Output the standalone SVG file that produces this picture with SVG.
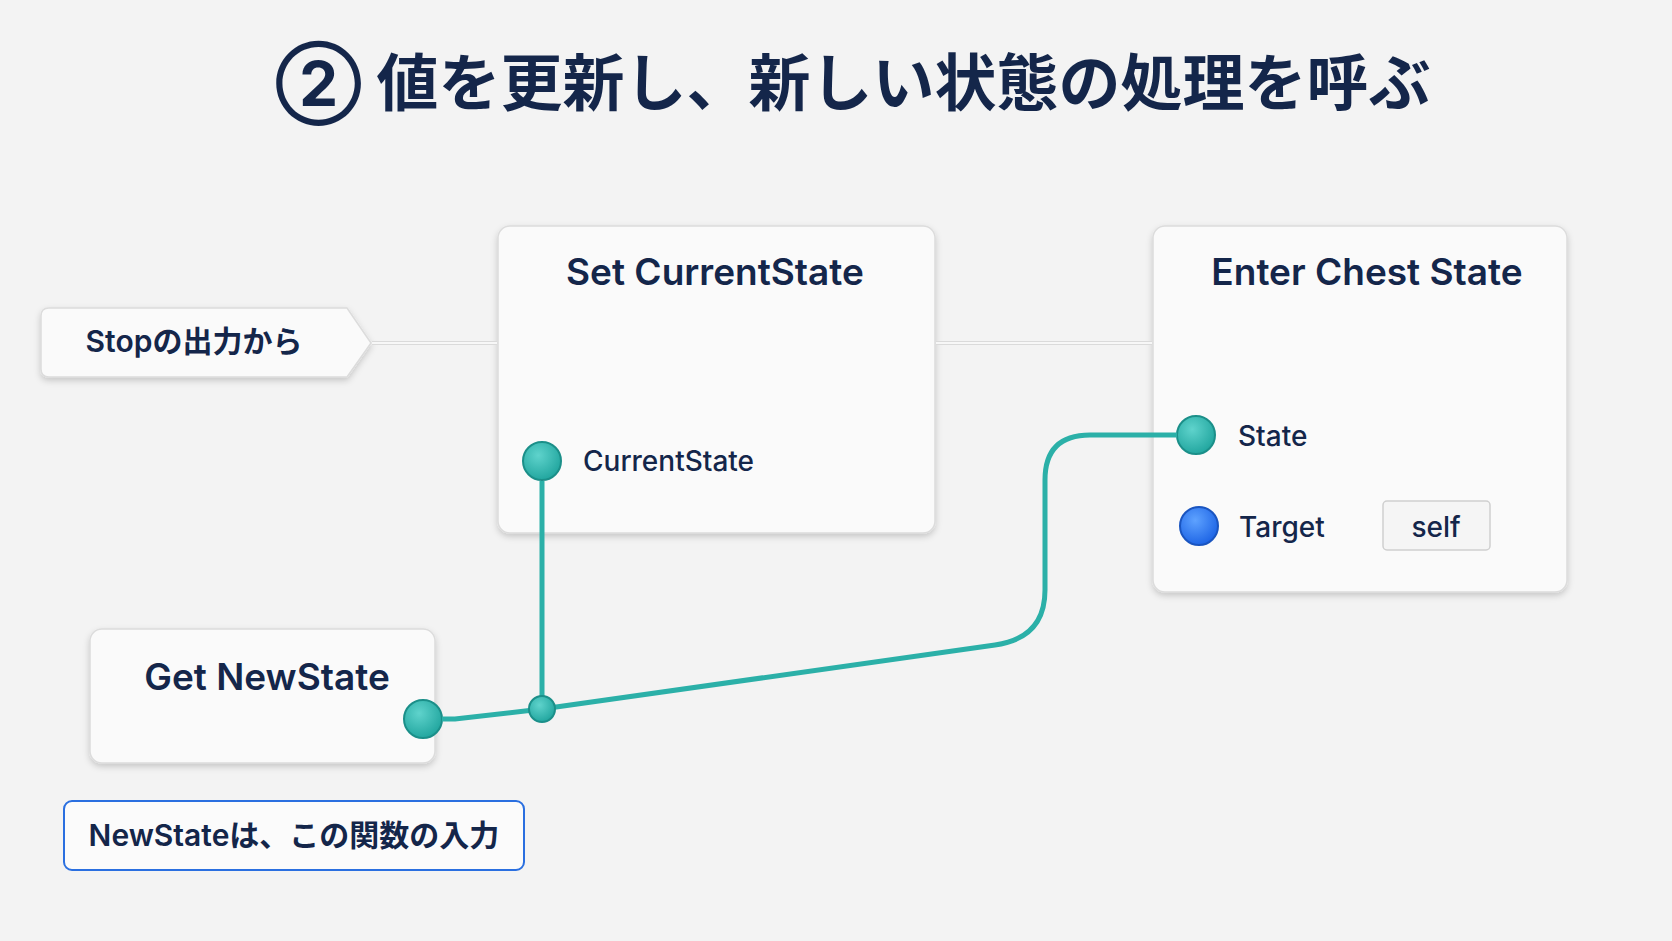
<svg xmlns="http://www.w3.org/2000/svg" width="1672" height="941" viewBox="0 0 1672 941">
<defs>
<filter id="sh" x="-10%" y="-10%" width="120%" height="130%"><feDropShadow dx="0" dy="3" stdDeviation="3" flood-color="#000" flood-opacity="0.18"/></filter>
<radialGradient id="tg" cx="40%" cy="35%" r="65%"><stop offset="0" stop-color="#5fd3cc"/><stop offset="1" stop-color="#23a7a0"/></radialGradient>
<radialGradient id="bg" cx="40%" cy="35%" r="65%"><stop offset="0" stop-color="#5ea2ff"/><stop offset="1" stop-color="#1f66e6"/></radialGradient>
</defs>
<style>
.t{font-family:Inter,"Noto Sans","Noto Sans CJK JP",sans-serif;fill:#14264a}
.node{fill:#fafafa;stroke:#dcdcdc;stroke-width:1.5}
.h{font-size:37px;font-weight:600;text-anchor:middle}
.p{font-size:28px;font-weight:500}
.pin{stroke:#1b8f89;stroke-width:2}
</style>
<rect width="1672" height="941" fill="#f3f3f3"/>
<g id="title"><text class="t" x="853" y="106" font-size="62" font-weight="700" text-anchor="middle">② 値を更新し、新しい状態の処理を呼ぶ</text></g>
<g id="stop"><path d="M49 308H347L371 343L347 377H49Q41 377 41 369V316Q41 308 49 308Z" class="node" filter="url(#sh)"/><text class="t" x="194" y="352" font-size="30" font-weight="600" text-anchor="middle">Stopの出力から</text></g>
<g id="set"><rect x="498" y="226" width="437" height="307" rx="12" class="node" filter="url(#sh)"/><text class="t h" x="715" y="285">Set CurrentState</text>
<circle cx="542" cy="461" r="19" fill="url(#tg)" class="pin"/><text class="t p" x="583" y="471">CurrentState</text></g>
<g id="enter"><rect x="1153" y="226" width="414" height="366" rx="12" class="node" filter="url(#sh)"/><text class="t h" x="1367" y="285">Enter Chest State</text>
<circle cx="1196" cy="435" r="19" fill="url(#tg)" class="pin"/><text class="t p" x="1238" y="446">State</text>
<circle cx="1199" cy="526" r="19" fill="url(#bg)" stroke="#1a55c0" stroke-width="2"/><text class="t p" x="1239" y="537">Target</text>
<rect x="1383" y="501" width="107" height="49" rx="4" fill="#f5f5f5" stroke="#cfcfcf" stroke-width="1.5"/><text class="t p" x="1436" y="537" text-anchor="middle">self</text></g>
<g id="get"><rect x="90" y="629" width="345" height="134" rx="12" class="node" filter="url(#sh)"/><text class="t h" x="267" y="690">Get NewState</text>
<circle cx="423" cy="719" r="19" fill="url(#tg)" class="pin"/></g>
<g id="connectors" fill="none">
<path d="M372 343H497M936 343H1152" stroke="#dadada" stroke-width="4"/>
<path d="M372 343H497M936 343H1152" stroke="#f7f7f7" stroke-width="2"/>
<path d="M542 481V709" stroke="#2bb0a8" stroke-width="5"/>
<path d="M442 719H455L542 709L995 645Q1045 638 1045 590V480Q1045 435 1090 435H1177" stroke="#2bb0a8" stroke-width="5"/>
</g>
<g id="junction"><circle cx="542" cy="709" r="13" fill="url(#tg)" class="pin"/></g>
<g id="note"><rect x="64" y="801" width="460" height="69" rx="8" fill="#fbfbfb" stroke="#2a6fe0" stroke-width="2"/><text class="t" x="294" y="846" font-size="30" font-weight="600" text-anchor="middle">NewStateは、この関数の入力</text></g>
</svg>
